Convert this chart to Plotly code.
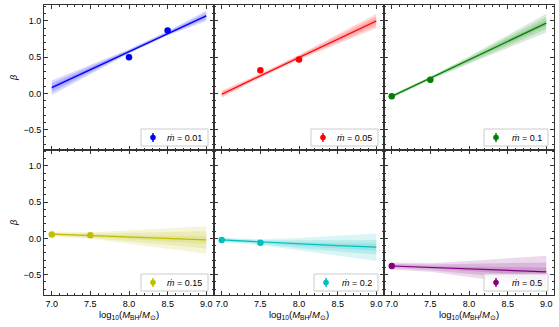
import plotly.graph_objects as go
from plotly.subplots import make_subplots

# valores
x_fit = [7.0, 7.5, 8.0, 8.5, 9.0]
mdot_labels = ['0.01', '0.05', '0.1', '0.15', '0.2', '0.5']
colores = ['0,0,255', '255,0,0', '0,128,0', '191,191,0', '0,191,191', '128,0,128']

x_pts_001 = [8.0, 8.5]
y_pts_001 = [0.50, 0.87]
x_pts_005 = [7.5, 8.0]
y_pts_005 = [0.32, 0.47]
x_pts_01 = [7.0, 7.5]
y_pts_01 = [-0.04, 0.19]
x_pts_015 = [7.0, 7.5]
y_pts_015 = [0.055, 0.045]
x_pts_02 = [7.0, 7.5]
y_pts_02 = [-0.02, -0.06]
x_pts_05 = [7.0]
y_pts_05 = [-0.38]

linea_001 = [0.08, 0.33, 0.58, 0.83, 1.07]
linea_005 = [-0.01, 0.245, 0.50, 0.75, 1.00]
linea_01 = [-0.04, 0.21, 0.46, 0.72, 0.97]
linea_015 = [0.06, 0.04, 0.02, 0.0, -0.02]
linea_02 = [-0.02, -0.05, -0.08, -0.10, -0.12]
linea_05 = [-0.38, -0.40, -0.42, -0.44, -0.46]

# semianchos de las bandas (exterior, media, interior)
banda_001 = [[0.10, 0.06, 0.03, 0.03, 0.07], [0.065, 0.04, 0.02, 0.02, 0.045], [0.03, 0.02, 0.01, 0.01, 0.02]]
banda_005 = [[0.05, 0.03, 0.035, 0.065, 0.10], [0.035, 0.02, 0.025, 0.045, 0.065], [0.015, 0.01, 0.012, 0.02, 0.03]]
banda_01 = [[0.025, 0.025, 0.05, 0.09, 0.13], [0.015, 0.015, 0.035, 0.06, 0.085], [0.008, 0.008, 0.015, 0.03, 0.04]]
banda_015 = [[0.035, 0.045, 0.09, 0.14, 0.19], [0.02, 0.03, 0.06, 0.09, 0.12], [0.01, 0.012, 0.025, 0.04, 0.055]]
banda_02 = [[0.03, 0.04, 0.085, 0.135, 0.19], [0.02, 0.025, 0.055, 0.08, 0.10], [0.01, 0.012, 0.025, 0.04, 0.05]]
banda_05 = [[0.05, 0.06, 0.11, 0.16, 0.22], [0.03, 0.04, 0.07, 0.10, 0.13], [0.012, 0.015, 0.03, 0.045, 0.06]]

paneles = [
    (x_pts_001, y_pts_001, linea_001, banda_001),
    (x_pts_005, y_pts_005, linea_005, banda_005),
    (x_pts_01, y_pts_01, linea_01, banda_01),
    (x_pts_015, y_pts_015, linea_015, banda_015),
    (x_pts_02, y_pts_02, linea_02, banda_02),
    (x_pts_05, y_pts_05, linea_05, banda_05),
]

FUENTE = 'Liberation Sans'
ANCHO_PANEL = 170.0
ALTO_PANEL = 145.0

fig = make_subplots(rows=2, cols=3, shared_xaxes=True, shared_yaxes=True,
                    horizontal_spacing=0, vertical_spacing=0)

for i, (xp, yp, linea, bandas) in enumerate(paneles):
    fila = i // 3 + 1
    col = i % 3 + 1
    c = colores[i]
    for hw in bandas:
        arriba = [l + h for l, h in zip(linea, hw)]
        abajo = [l - h for l, h in zip(linea, hw)]
        fig.add_trace(go.Scatter(x=x_fit + x_fit[::-1], y=arriba + abajo[::-1],
                                 fill='toself', fillcolor=f'rgba({c},0.15)',
                                 line=dict(width=0), mode='lines',
                                 showlegend=False, hoverinfo='skip'),
                      row=fila, col=col)
    fig.add_trace(go.Scatter(x=x_fit, y=linea, mode='lines',
                             line=dict(color=f'rgb({c})', width=1.2),
                             showlegend=False),
                  row=fila, col=col)
    fig.add_trace(go.Scatter(x=xp, y=yp, mode='markers',
                             marker=dict(color=f'rgb({c})', size=6.5),
                             showlegend=False),
                  row=fila, col=col)

    # leyenda dibujada a mano, abajo a la derecha del panel
    sufijo = '' if i == 0 else str(i + 1)
    xr = f'x{sufijo} domain'
    yr = f'y{sufijo} domain'
    ancho = 67 if len(mdot_labels[i]) == 4 else 64
    derecha = 1 - 6 / ANCHO_PANEL
    izquierda = derecha - ancho / ANCHO_PANEL
    abajo_l = 4 / ALTO_PANEL
    arriba_l = 21 / ALTO_PANEL
    medio = (abajo_l + arriba_l) / 2
    fig.add_shape(type='rect', xref=xr, yref=yr, x0=izquierda, x1=derecha,
                  y0=abajo_l, y1=arriba_l, line=dict(color='#cccccc', width=1),
                  fillcolor='rgba(255,255,255,0.8)', layer='above')
    gx = izquierda + 12 / ANCHO_PANEL
    fig.add_shape(type='line', xref=xr, yref=yr, xsizemode='pixel', ysizemode='pixel',
                  xanchor=gx, yanchor=medio, x0=0, x1=0, y0=-4.5, y1=4.5,
                  line=dict(color=f'rgb({c})', width=1.5), layer='above')
    fig.add_shape(type='circle', xref=xr, yref=yr, xsizemode='pixel', ysizemode='pixel',
                  xanchor=gx, yanchor=medio, x0=-2.8, x1=2.8, y0=-2.8, y1=2.8,
                  line=dict(color=f'rgb({c})', width=0), fillcolor=f'rgb({c})', layer='above')
    fig.add_annotation(xref=xr, yref=yr, x=derecha - 4 / ANCHO_PANEL, y=medio,
                       xanchor='right', yanchor='middle', showarrow=False,
                       text=f'<i>ṁ</i> = {mdot_labels[i]}',
                       font=dict(family=FUENTE, size=9, color='black'))

eje = dict(showgrid=False, zeroline=False, showline=True, linecolor='#333333',
           linewidth=1, mirror='allticks', ticks='inside', ticklen=4,
           tickwidth=0.8, tickcolor='#333333',
           tickfont=dict(family=FUENTE, size=9, color='black'),
           minor=dict(ticks='inside', ticklen=2, tickcolor='#333333', tickwidth=0.6))

fig.update_xaxes(eje, range=[6.9, 9.1], tick0=7.0, dtick=0.5, tickformat='.1f',
                 minor_dtick=0.1)
fig.update_yaxes(eje, range=[-0.78, 1.22], tick0=0, dtick=0.5, tickformat='.1f',
                 minor_dtick=0.1)

titulo_x = 'log<sub>10</sub>(<i>M</i><sub>BH</sub>/<i>M</i><sub>⊙</sub>)'
for col in range(1, 4):
    fig.update_xaxes(title=dict(text=titulo_x, font=dict(family=FUENTE, size=9.5, color='black'),
                                standoff=3),
                     row=2, col=col)
for fila in range(1, 3):
    fig.update_yaxes(title=dict(text='<i>β</i>', font=dict(family=FUENTE, size=9, color='black'),
                                standoff=4),
                     row=fila, col=1)

fig.update_layout(width=559, height=327,
                  margin=dict(l=44, r=5, t=5, b=32),
                  plot_bgcolor='white', paper_bgcolor='white',
                  font=dict(family=FUENTE, size=9, color='black'),
                  showlegend=False)

fig.write_html("out.html", config={'displayModeBar': False},
               post_script="document.body.style.margin='0';")
